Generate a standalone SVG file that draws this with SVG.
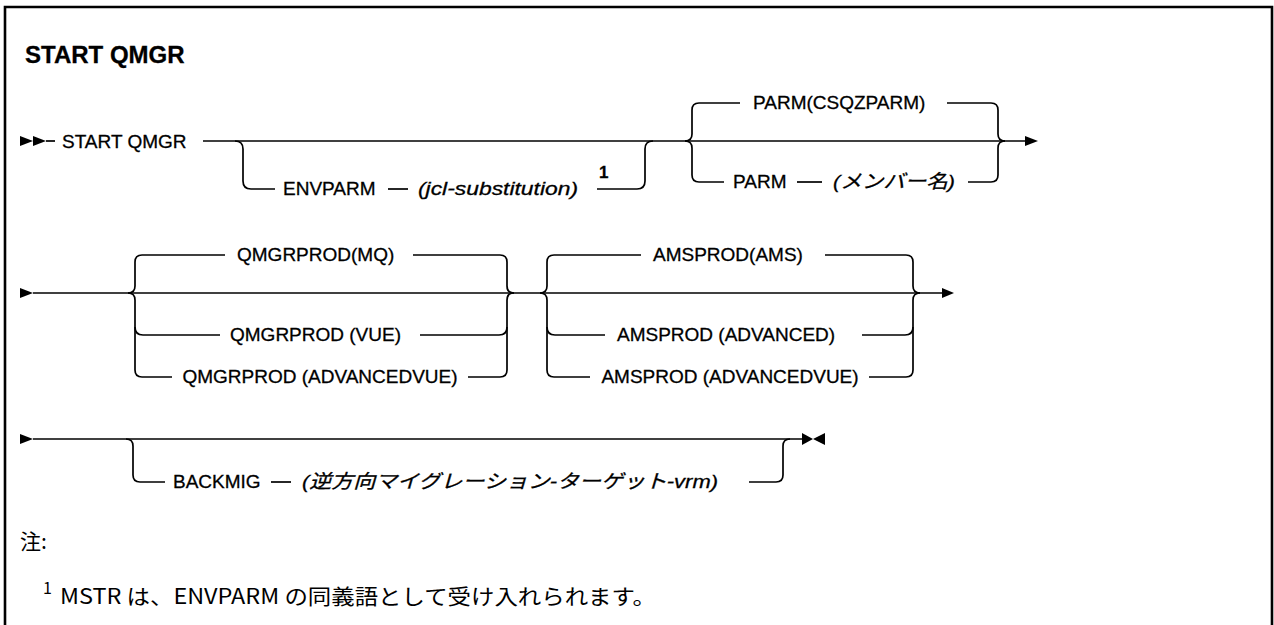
<svg xmlns="http://www.w3.org/2000/svg" width="1274" height="625" viewBox="0 0 1274 625">
<style>
.t{font-family:"Liberation Sans",Arial,"Noto Sans CJK JP",sans-serif;font-size:19px;fill:#000;stroke:#000;stroke-width:0.3}
.i{font-style:italic}
.b{font-weight:bold}
.jp{font-family:"Noto Sans CJK JP",sans-serif;font-size:21px;fill:#000}
.c{fill:none;stroke:#000;stroke-width:1.7}
.m{fill:#000;stroke:none}
</style>
<rect x="0" y="0" width="1274" height="625" fill="#fff"/>
<path d="M5 625 V7 H1272 V625" fill="none" stroke="#000" stroke-width="2.6"/>
<g id="title"><text class="t b" x="25" y="63" style="font-size:24px">START QMGR</text></g>

<g id="connectors">
  <!-- row 1 -->
  <polygon class="m" points="20,136 33,141 20,146"/>
  <polygon class="m" points="33,136 46,141 33,146"/>
  <path class="c" d="M46 141 H55"/>
  <path class="c" d="M203 141 H1025"/>
  <path class="c" d="M235 141 Q243 141 243 149 V181 Q243 189 251 189 H275"/>
  <path class="c" d="M388 189 H408"/>
  <path class="c" d="M597 189 H637 Q645 189 645 181 V149 Q645 141 653 141"/>
  <path class="c" d="M685 141 Q692 141 692 134 V110 Q692 103 699 103 H740"/>
  <path class="c" d="M685 141 Q692 141 692 148 V175 Q692 182 699 182 H724"/>
  <path class="c" d="M947 103 H991 Q998 103 998 110 V134 Q998 141 1005 141"/>
  <path class="c" d="M797 182 H822"/>
  <path class="c" d="M968 182 H991 Q998 182 998 175 V148 Q998 141 1005 141"/>
  <polygon class="m" points="1025,136 1038,141 1025,146"/>
  <!-- row 2 -->
  <polygon class="m" points="20,288 33,293 20,298"/>
  <path class="c" d="M33 293 H942"/>
  <path class="c" d="M128 293 Q135 293 135 286 V262 Q135 255 142 255 H225"/>
  <path class="c" d="M128 293 Q135 293 135 300 V370 Q135 377 142 377 H172"/>
  <path class="c" d="M135 327 Q135 335 143 335 H220"/>
  <path class="c" d="M413 255 H500 Q507 255 507 262 V286 Q507 293 514 293"/>
  <path class="c" d="M420 335 H499 Q507 335 507 327"/>
  <path class="c" d="M468 377 H500 Q507 377 507 370 V300 Q507 293 514 293"/>
  <path class="c" d="M540 293 Q547 293 547 286 V262 Q547 255 554 255 H641"/>
  <path class="c" d="M540 293 Q547 293 547 300 V370 Q547 377 554 377 H590"/>
  <path class="c" d="M547 327 Q547 335 555 335 H605"/>
  <path class="c" d="M825 255 H906 Q913 255 913 262 V286 Q913 293 920 293"/>
  <path class="c" d="M862 335 H905 Q913 335 913 327"/>
  <path class="c" d="M869 377 H906 Q913 377 913 370 V300 Q913 293 920 293"/>
  <polygon class="m" points="942,288 954,293 942,298"/>
  <!-- row 3 -->
  <polygon class="m" points="20,434 33,439 20,444"/>
  <path class="c" d="M33 439 H802"/>
  <path class="c" d="M126 439 Q133 439 133 446 V475 Q133 482 140 482 H165"/>
  <path class="c" d="M271 482 H291"/>
  <path class="c" d="M749 482 H776 Q783 482 783 475 V446 Q783 439 790 439"/>
  <polygon class="m" points="802,433 813,439 802,445"/>
  <polygon class="m" points="825,433 813,439 825,445"/>
</g>

<g id="n-start"><text class="t" x="62" y="148">START QMGR</text></g>
<g id="n-envparm"><text class="t" x="283" y="195">ENVPARM</text></g>
<g id="n-jcl"><text class="t i" x="418" y="195" textLength="160" lengthAdjust="spacingAndGlyphs">(jcl-substitution)</text></g>
<g id="n-fn1"><text class="t b" x="599" y="178" style="font-size:17px">1</text></g>
<g id="n-parmdef"><text class="t" x="753" y="109">PARM(CSQZPARM)</text></g>
<g id="n-parm"><text class="t" x="733" y="188">PARM</text></g>
<g id="n-member"><text class="t i" x="833" y="188" textLength="122" lengthAdjust="spacingAndGlyphs">(メンバー名)</text></g>
<g id="n-qmq"><text class="t" x="237" y="261">QMGRPROD(MQ)</text></g>
<g id="n-qvue"><text class="t" x="230" y="341">QMGRPROD (VUE)</text></g>
<g id="n-qadv"><text class="t" x="320" y="383" text-anchor="middle">QMGRPROD (ADVANCEDVUE)</text></g>
<g id="n-ams"><text class="t" x="653" y="261">AMSPROD(AMS)</text></g>
<g id="n-aadv"><text class="t" x="617" y="341">AMSPROD (ADVANCED)</text></g>
<g id="n-aadvvue"><text class="t" x="730" y="383" text-anchor="middle">AMSPROD (ADVANCEDVUE)</text></g>
<g id="n-backmig"><text class="t" x="173" y="488">BACKMIG</text></g>
<g id="n-vrm"><text class="t i" x="302" y="488" textLength="416" lengthAdjust="spacingAndGlyphs">(逆方向マイグレーション-ターゲット-vrm)</text></g>
<g id="notes">
  <text class="jp" x="20" y="549">注:</text>
  <text class="jp" x="43" y="594" style="font-size:16px">1</text>
  <text class="jp" x="60" y="604" textLength="596" lengthAdjust="spacingAndGlyphs">MSTR は、ENVPARM の同義語として受け入れられます。</text>
</g>
</svg>
